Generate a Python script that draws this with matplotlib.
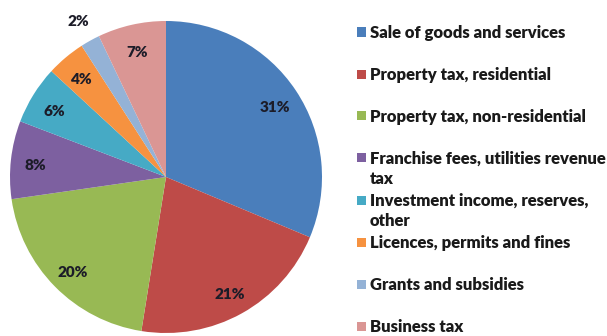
import matplotlib
matplotlib.use("Agg")
import matplotlib.pyplot as plt
import numpy as np
from matplotlib.patches import Rectangle

categories = [
    "Sale of goods and services",
    "Property tax, residential",
    "Property tax, non-residential",
    "Franchise fees, utilities revenue\ntax",
    "Investment income, reserves,\nother",
    "Licences, permits and fines",
    "Grants and subsidies",
    "Business tax",
]
shares = [31, 21, 20, 8, 6, 4, 2, 7]
colors = ["#4A7EBB", "#BE4B48", "#98B954", "#7D60A0", "#46AAC5",
          "#F69240", "#94B2D6", "#DA9694"]

plt.rcParams["font.family"] = ["Lato", "DejaVu Sans"]

W, H = 607, 336
fig = plt.figure(figsize=(W / 100, H / 100), dpi=100)
fig.patch.set_facecolor("white")

# pie centred at (166, 177) px, radius ~156 px
cx, cy, r = 166, 177, 156
ax = fig.add_axes([(cx - r) / W, (H - cy - r) / H, 2 * r / W, 2 * r / H])
wedges, _ = ax.pie(shares, colors=colors, startangle=90, counterclock=False,
                   wedgeprops=dict(linewidth=0))
ax.set_xlim(-1, 1)
ax.set_ylim(-1, 1)
ax.set_aspect("equal")

# percentage labels (the smallest slice gets its label outside)
for w, v in zip(wedges, shares):
    mid = np.deg2rad((w.theta1 + w.theta2) / 2)
    d = 1.16 if v == 2 else 0.84
    ax.text(d * np.cos(mid), d * np.sin(mid) - 0.02, f"{v}%", ha="center",
            va="center", fontsize=11, fontweight="heavy", color="#1c1c28")

# legend, drawn by hand
ys = [32, 74, 116, 158, 200, 242, 284, 326]
for name, col, y in zip(categories, colors, ys):
    fig.add_artist(Rectangle(((357) / W, (H - y - 4.5) / H), 9 / W, 9 / H,
                             facecolor=col, edgecolor="none",
                             transform=fig.transFigure))
    lines = name.split("\n")
    for k, line in enumerate(lines):
        fig.text(370 / W, (H - y - 6 - 20 * k) / H, line, ha="left",
                 va="baseline", fontsize=12, fontweight="heavy",
                 color="#1a1a1a")

fig.savefig("out.png", dpi=100, facecolor="white")
